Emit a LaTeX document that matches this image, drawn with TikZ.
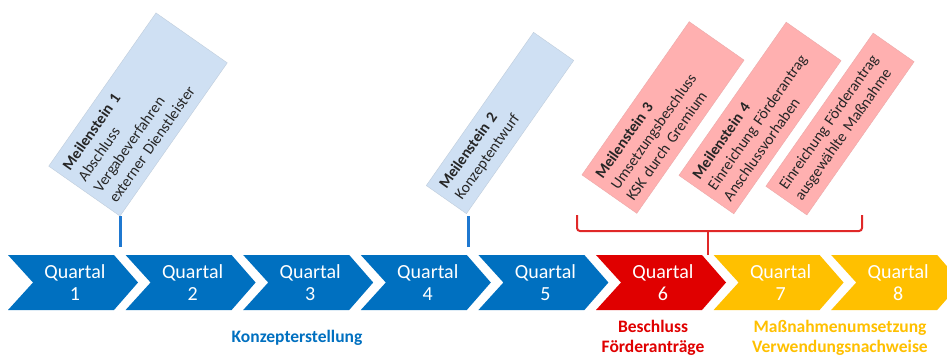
\documentclass[tikz,border=0pt]{standalone}
\usepackage{fontspec}
\setmainfont{Carlito}
\definecolor{qblue}{HTML}{0070C0}
\definecolor{qred}{HTML}{E00000}
\definecolor{qorange}{HTML}{FFC000}
\definecolor{msbluefill}{HTML}{CFE0F3}
\definecolor{mspinkfill}{HTML}{FFB0B0}
\definecolor{mstext}{HTML}{262626}
\definecolor{lineblue}{HTML}{1F78D0}
\definecolor{bracketred}{HTML}{E02828}
\begin{document}
\begin{tikzpicture}[x=1pt,y=-1pt,
  msbox/.style={rotate=55, align=left, inner xsep=8pt, inner ysep=2pt,
    minimum width=187pt, text width=171pt, text=mstext,
    font=\fontsize{15.5}{19}\selectfont},
  msblue/.style={msbox, fill=msbluefill, draw=msbluefill!80!gray, line width=0.4pt},
  mspink/.style={msbox, fill=mspinkfill, draw=mspinkfill!85!gray, line width=0.4pt},
  qtext/.style={align=center, text=white, inner sep=0pt, font=\fontsize{20}{22}\selectfont},
  mslink/.style={draw=lineblue, line width=3pt},
  bracket/.style={draw=bracketred, line width=2pt, rounded corners=3pt},
  phase/.style={align=center, inner sep=0pt, font=\bfseries\fontsize{17.5}{20}\selectfont}
]
\useasboundingbox (0,0) rectangle (947,354);
\fill[white] (0,0) rectangle (947,354);

% chevrons
\foreach \i/\c in {1/qblue,2/qblue,3/qblue,4/qblue,5/qblue,6/qred,7/qorange,8/qorange} {
  \pgfmathsetmacro\xo{8+117.6*(\i-1)}
  \fill[\c] (\xo,255) -- ({\xo+106},255) -- ({\xo+130},282.5) -- ({\xo+106},310)
     -- (\xo,310) -- ({\xo+25},282.5) -- cycle;
  \node[qtext] (q\i) at ({\xo+67},282.5) {Quartal\\\i};
}

% milestone boxes
\node[msblue, minimum height=87pt] (m1) at (138,114.5)
  {\textbf{Meilenstein 1}\\Abschluss\\Vergabeverfahren\\externer Dienstleister};
\node[msblue, minimum height=49pt] (m2) at (500,123)
  {\textbf{Meilenstein 2}\\Konzeptentwurf};
\node[mspink, minimum height=67pt] (m3) at (663,117.5)
  {\textbf{Meilenstein 3}\\Umsetzungsbeschluss\\KSK durch Gremium};
\node[mspink, minimum height=67pt] (m4) at (760,118)
  {\textbf{Meilenstein 4}\\Einreichung Förderantrag\\Anschlussvorhaben};
\node[mspink, minimum height=50pt] (m5) at (840,124)
  {Einreichung Förderantrag\\ausgewählte Maßnahme};

% milestone links
\coordinate (l1a) at (120,216);
\coordinate (l1b) at (120,247);
\coordinate (l2a) at (468,216);
\coordinate (l2b) at (468,247);
\draw[mslink] (l1a) -- (l1b);
\draw[mslink] (l2a) -- (l2b);

% bracket
\coordinate (bl) at (577,215);
\coordinate (br) at (862,215);
\coordinate (bm) at (708,231);
\coordinate (bd) at (708,255);
\draw[bracket] (bl) -- (577,231) -- (862,231) -- (br);
\draw[bracket] (bm) -- (bd);

% phase labels
\node[phase, text=qblue] (p1) at (297,338) {Konzepterstellung};
\node[phase, text=qred] (p2) at (653,338) {Beschluss\\Förderanträge};
\node[phase, text=qorange] (p3) at (840,338) {Maßnahmenumsetzung\\Verwendungsnachweise};
\end{tikzpicture}
\end{document}
